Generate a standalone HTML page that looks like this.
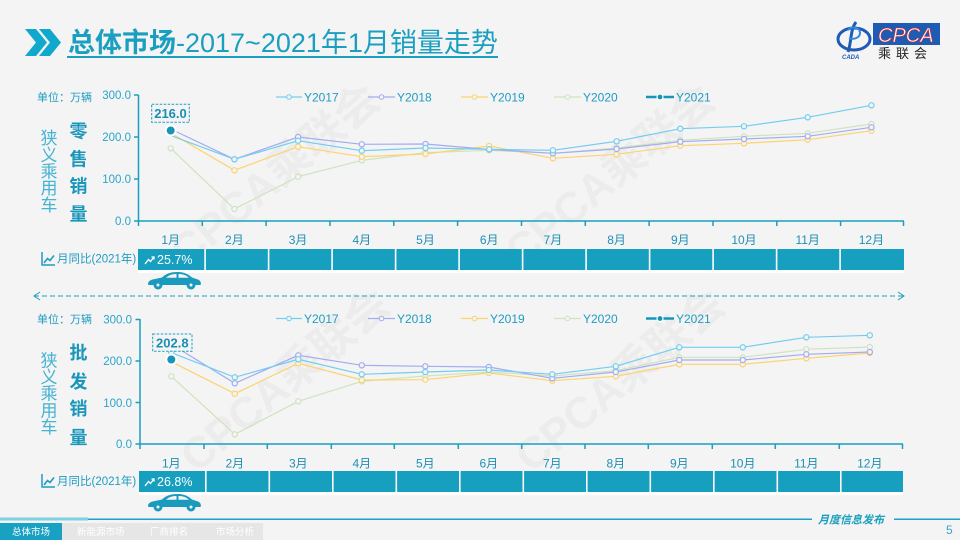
<!DOCTYPE html>
<html>
<head>
<meta charset="utf-8">
<style>
html,body{margin:0;padding:0;}
body{width:960px;height:540px;overflow:hidden;background:#f4f4f4;font-family:"Liberation Sans","Noto Sans CJK SC",sans-serif;}
svg{display:block;}
</style>
</head>
<body>
<svg width="960" height="540" viewBox="0 0 960 540" xmlns="http://www.w3.org/2000/svg" font-family="Liberation Sans, Noto Sans CJK SC, sans-serif">
  <rect x="0" y="0" width="960" height="540" fill="#f4f4f4"/>

  <!-- watermarks -->
  <g font-size="44" font-weight="bold" fill="#000" opacity="0.035">
    <text x="275" y="190" text-anchor="middle" transform="rotate(-40 275 175)">CPCA乘联会</text>
    <text x="610" y="190" text-anchor="middle" transform="rotate(-40 610 175)">CPCA乘联会</text>
    <text x="285" y="395" text-anchor="middle" transform="rotate(-40 285 380)">CPCA乘联会</text>
    <text x="620" y="395" text-anchor="middle" transform="rotate(-40 620 380)">CPCA乘联会</text>
  </g>

  <!-- title -->
  <polygon points="25,29 36,29 47,42.5 36,56 25,56 36,42.5" fill="#10a8cc"/>
  <polygon points="39,29 50,29 61,42.5 50,56 39,56 50,42.5" fill="#10a8cc"/>
  <text x="68" y="52" font-size="27" fill="#1a9fc0"><tspan font-weight="bold">总体市场</tspan>-2017~2021年1月销量走势</text>
  <rect x="67" y="56" width="431" height="2" fill="#1a9fc0"/>

  <!-- logo -->
  <g>
    <ellipse cx="854" cy="39" rx="16" ry="11" fill="none" stroke="#1e5bb5" stroke-width="3"/>
    <path d="M856,22 C850,30 852,40 848,52" stroke="#1e5bb5" stroke-width="3" fill="none"/>
    <path d="M848,30 C852,26 860,27 860,33 C860,38 853,40 849,38" stroke="#2a8be0" stroke-width="2" fill="none"/>
    <text x="842" y="59" font-size="6" font-style="italic" font-weight="bold" fill="#1e5bb5">CADA</text>
    <rect x="873" y="23" width="67" height="22" fill="#1e5bb5"/>
    <text x="878" y="42" font-size="20" font-style="italic" fill="#fff" stroke="#d8302f" stroke-width="0.6">CPCA</text>
    <text x="878" y="58" font-size="13" fill="#222" letter-spacing="5">乘联会</text>
  </g>

  <!-- ===== TOP CHART ===== -->
  <text x="37" y="101" font-size="11" fill="#1f9cc2">单位：万辆</text>
  <g font-size="17" fill="#45b3d2" text-anchor="middle">
    <text x="49" y="144">狭</text>
    <text x="49" y="161">义</text>
    <text x="49" y="177.5">乘</text>
    <text x="49" y="194">用</text>
    <text x="49" y="211">车</text>
  </g>
  <g font-size="18" font-weight="bold" fill="#1a96bb" text-anchor="middle">
    <text x="78.5" y="137.5">零</text>
    <text x="78.5" y="165.5">售</text>
    <text x="78.5" y="192.5">销</text>
    <text x="78.5" y="220.5">量</text>
  </g>
  <g font-size="11.5" fill="#2aa5c8" text-anchor="end">
    <text x="131" y="99">300.0</text>
    <text x="131" y="141">200.0</text>
    <text x="131" y="183">100.0</text>
    <text x="131" y="225">0.0</text>
  </g>
  <g stroke="#1a9fc0" stroke-width="1.5" fill="none">
    <line x1="138.5" y1="95" x2="138.5" y2="221"/>
    <line x1="138" y1="221" x2="904" y2="221"/>
    <line x1="134" y1="95" x2="138.5" y2="95"/>
    <line x1="134" y1="137" x2="138.5" y2="137"/>
    <line x1="134" y1="179" x2="138.5" y2="179"/>
    <line x1="134" y1="221" x2="138.5" y2="221"/>
    <path d="M138.5,221v5M202.3,221v5M266.1,221v5M330,221v5M393.8,221v5M457.6,221v5M521.5,221v5M585.3,221v5M649.1,221v5M713,221v5M776.8,221v5M840.6,221v5M903.5,221v5"/>
  </g>
  <g font-size="12" fill="#1f8fb5" text-anchor="middle">
    <text x="170.7" y="244">1月</text><text x="234.4" y="244">2月</text><text x="298.1" y="244">3月</text>
    <text x="361.8" y="244">4月</text><text x="425.5" y="244">5月</text><text x="489.2" y="244">6月</text>
    <text x="552.9" y="244">7月</text><text x="616.6" y="244">8月</text><text x="680.3" y="244">9月</text>
    <text x="744" y="244">10月</text><text x="807.7" y="244">11月</text><text x="871.4" y="244">12月</text>
  </g>

  <!-- legend top -->
  <g font-size="12" fill="#1f9cc2">
    <line x1="276" y1="97" x2="302" y2="97" stroke="#73cdf0" stroke-width="1.2"/><circle cx="289" cy="97" r="2.3" fill="#f4f4f4" stroke="#73cdf0"/>
    <text x="304" y="101.5">Y2017</text>
    <line x1="368" y1="97" x2="395" y2="97" stroke="#a3acf0" stroke-width="1.2"/><circle cx="381.5" cy="97" r="2.3" fill="#f4f4f4" stroke="#a3acf0"/>
    <text x="397" y="101.5">Y2018</text>
    <line x1="461" y1="97" x2="488" y2="97" stroke="#fcd36f" stroke-width="1.2"/><circle cx="474.5" cy="97" r="2.3" fill="#f4f4f4" stroke="#fcd36f"/>
    <text x="490" y="101.5">Y2019</text>
    <line x1="554" y1="97" x2="581" y2="97" stroke="#cfe3be" stroke-width="1.2"/><circle cx="567.5" cy="97" r="2.3" fill="#f4f4f4" stroke="#cfe3be"/>
    <text x="583" y="101.5">Y2020</text>
    <line x1="646" y1="97" x2="674" y2="97" stroke="#1596b8" stroke-width="2.5"/><circle cx="660" cy="97" r="3" fill="#1596b8" stroke="#fff" stroke-width="1.2"/>
    <text x="676" y="101.5">Y2021</text>
  </g>

  <!-- series top -->
  <g fill="#f4f4f4" stroke-width="1.2">
    <g stroke="#cfe3be">
      <polyline fill="none" points="170.7,148.3 234.4,209 298.1,176.7 361.8,160.3 425.5,152.7 489.2,150.3 552.9,153.3 616.6,148 680.3,140.3 744,136.3 807.7,133.3 871.4,124"/>
      <circle cx="170.7" cy="148.3" r="2.6"/><circle cx="234.4" cy="209" r="2.6"/><circle cx="298.1" cy="176.7" r="2.6"/><circle cx="361.8" cy="160.3" r="2.6"/><circle cx="425.5" cy="152.7" r="2.6"/><circle cx="489.2" cy="150.3" r="2.6"/><circle cx="552.9" cy="153.3" r="2.6"/><circle cx="616.6" cy="148" r="2.6"/><circle cx="680.3" cy="140.3" r="2.6"/><circle cx="744" cy="136.3" r="2.6"/><circle cx="807.7" cy="133.3" r="2.6"/><circle cx="871.4" cy="124" r="2.6"/>
    </g>
    <g stroke="#fcd36f">
      <polyline fill="none" points="170.7,133 234.4,170.3 298.1,146.7 361.8,156.7 425.5,154 489.2,146 552.9,158.3 616.6,154.3 680.3,145.7 744,143.3 807.7,139.7 871.4,130.7"/>
      <circle cx="234.4" cy="170.3" r="2.6"/><circle cx="298.1" cy="146.7" r="2.6"/><circle cx="361.8" cy="156.7" r="2.6"/><circle cx="425.5" cy="154" r="2.6"/><circle cx="489.2" cy="146" r="2.6"/><circle cx="552.9" cy="158.3" r="2.6"/><circle cx="616.6" cy="154.3" r="2.6"/><circle cx="680.3" cy="145.7" r="2.6"/><circle cx="744" cy="143.3" r="2.6"/><circle cx="807.7" cy="139.7" r="2.6"/><circle cx="871.4" cy="130.7" r="2.6"/>
    </g>
    <g stroke="#a3acf0">
      <polyline fill="none" points="170.7,129 234.4,159.3 298.1,137 361.8,144.3 425.5,144 489.2,149.5 552.9,153.3 616.6,149 680.3,141.7 744,139 807.7,136.3 871.4,127.3"/>
      <circle cx="234.4" cy="159.3" r="2.6"/><circle cx="298.1" cy="137" r="2.6"/><circle cx="361.8" cy="144.3" r="2.6"/><circle cx="425.5" cy="144" r="2.6"/><circle cx="489.2" cy="149.5" r="2.6"/><circle cx="552.9" cy="153.3" r="2.6"/><circle cx="616.6" cy="149" r="2.6"/><circle cx="680.3" cy="141.7" r="2.6"/><circle cx="744" cy="139" r="2.6"/><circle cx="807.7" cy="136.3" r="2.6"/><circle cx="871.4" cy="127.3" r="2.6"/>
    </g>
    <g stroke="#73cdf0">
      <polyline fill="none" points="170.7,135.5 234.4,159.3 298.1,140.7 361.8,150.7 425.5,148 489.2,149.3 552.9,150.3 616.6,141.3 680.3,128.7 744,126.3 807.7,117.3 871.4,105.3"/>
      <circle cx="234.4" cy="159.3" r="2.6"/><circle cx="298.1" cy="140.7" r="2.6"/><circle cx="361.8" cy="150.7" r="2.6"/><circle cx="425.5" cy="148" r="2.6"/><circle cx="489.2" cy="149.3" r="2.6"/><circle cx="552.9" cy="150.3" r="2.6"/><circle cx="616.6" cy="141.3" r="2.6"/><circle cx="680.3" cy="128.7" r="2.6"/><circle cx="744" cy="126.3" r="2.6"/><circle cx="807.7" cy="117.3" r="2.6"/><circle cx="871.4" cy="105.3" r="2.6"/>
    </g>
  </g>
  <circle cx="170.7" cy="130.5" r="5" fill="#1596b8" stroke="#fff" stroke-width="2"/>
  <rect x="151.7" y="104.3" width="37.6" height="18" fill="#f4f4f4" stroke="#1a9fc0" stroke-width="1" stroke-dasharray="2.5,1.5"/>
  <text x="170.5" y="118" font-size="13" font-weight="bold" fill="#1a8fb0" text-anchor="middle">216.0</text>

  <!-- top yoy bar -->
  <g>
    <path d="M42,252 V265 H55" stroke="#1f9cc2" stroke-width="1.5" fill="none"/>
    <path d="M44,263 L47.5,258.5 L50,260.5 L54,255.5" stroke="#1f9cc2" stroke-width="1.6" fill="none"/>
    <text x="57" y="262.5" font-size="11.5" fill="#1f9cc2">月同比(2021年)</text>
    <rect x="138" y="249" width="766" height="24" fill="#ffffff"/>
    <rect x="138" y="249" width="766" height="21" fill="#169fbf"/>
    <g fill="#ffffff">
      <rect x="204.3" y="249" width="1.6" height="21"/><rect x="267.8" y="249" width="1.6" height="21"/><rect x="331.3" y="249" width="1.6" height="21"/><rect x="394.8" y="249" width="1.6" height="21"/><rect x="458.3" y="249" width="1.6" height="21"/><rect x="521.8" y="249" width="1.6" height="21"/><rect x="585.3" y="249" width="1.6" height="21"/><rect x="648.8" y="249" width="1.6" height="21"/><rect x="712.3" y="249" width="1.6" height="21"/><rect x="775.8" y="249" width="1.6" height="21"/><rect x="839.3" y="249" width="1.6" height="21"/>
    </g>
    <path d="M145,264 L148.5,259.5 L150.5,261.5 L154,257 M151.5,257 H154 V259.5" stroke="#fff" stroke-width="1.3" fill="none"/>
    <text x="157" y="264" font-size="12.5" fill="#ffffff">25.7%</text>
  </g>
  <!-- car top -->
  <g transform="translate(147,271)" fill="#1a9bbd">
    <path d="M1,13 C1,10 4,8.5 8,8 L15,6.5 C19,2.5 24,1 31,1 C37,1 41,3 45,6.5 L51,8.5 C53.5,9.5 54.5,12 53.5,14 L1.5,14 Z"/>
    <circle cx="11" cy="14" r="4.5"/><circle cx="44" cy="14" r="4.5"/>
    <path d="M19,6.8 C22,4 25,3 29.5,3 L29.5,6.8 Z M31.5,3 C36,3 39,4 42,6.8 L31.5,6.8 Z" fill="#f4f4f4"/>
    <circle cx="11" cy="14" r="1.5" fill="#f4f4f4"/><circle cx="44" cy="14" r="1.5" fill="#f4f4f4"/>
  </g>

  <!-- dashed divider -->
  <line x1="34" y1="296" x2="904" y2="296" stroke="#1a9fc0" stroke-width="1" stroke-dasharray="5,3"/>
  <path d="M40,292 L34,296 L40,300" stroke="#1a9fc0" stroke-width="1" fill="none"/>
  <path d="M898,292 L904,296 L898,300" stroke="#1a9fc0" stroke-width="1" fill="none"/>

  <!-- ===== BOTTOM CHART ===== -->
  <text x="37" y="323" font-size="11" fill="#1f9cc2">单位：万辆</text>
  <g font-size="17" fill="#45b3d2" text-anchor="middle">
    <text x="49" y="366.5">狭</text>
    <text x="49" y="383">义</text>
    <text x="49" y="399.5">乘</text>
    <text x="49" y="416.5">用</text>
    <text x="49" y="433">车</text>
  </g>
  <g font-size="18" font-weight="bold" fill="#1a96bb" text-anchor="middle">
    <text x="78.5" y="359">批</text>
    <text x="78.5" y="388">发</text>
    <text x="78.5" y="415">销</text>
    <text x="78.5" y="444">量</text>
  </g>
  <g font-size="11.5" fill="#2aa5c8" text-anchor="end">
    <text x="132" y="323.5">300.0</text>
    <text x="132" y="365">200.0</text>
    <text x="132" y="407">100.0</text>
    <text x="132" y="448">0.0</text>
  </g>
  <g stroke="#1a9fc0" stroke-width="1.5" fill="none">
    <line x1="140" y1="319" x2="140" y2="444"/>
    <line x1="139.5" y1="444" x2="903" y2="444"/>
    <line x1="135.5" y1="319.5" x2="140" y2="319.5"/>
    <line x1="135.5" y1="361" x2="140" y2="361"/>
    <line x1="135.5" y1="402.5" x2="140" y2="402.5"/>
    <line x1="135.5" y1="444" x2="140" y2="444"/>
    <path d="M140,444v5M204,444v5M267.3,444v5M331.3,444v5M394.3,444v5M458.3,444v5M521.7,444v5M585,444v5M648.3,444v5M712.3,444v5M775.3,444v5M839.3,444v5M902.5,444v5"/>
  </g>
  <g font-size="12" fill="#1f8fb5" text-anchor="middle">
    <text x="171.3" y="467.5">1月</text><text x="234.8" y="467.5">2月</text><text x="298.3" y="467.5">3月</text>
    <text x="361.8" y="467.5">4月</text><text x="425.3" y="467.5">5月</text><text x="488.8" y="467.5">6月</text>
    <text x="552.3" y="467.5">7月</text><text x="615.8" y="467.5">8月</text><text x="679.3" y="467.5">9月</text>
    <text x="742.8" y="467.5">10月</text><text x="806.3" y="467.5">11月</text><text x="869.8" y="467.5">12月</text>
  </g>

  <!-- legend bottom -->
  <g font-size="12" fill="#1f9cc2">
    <line x1="276" y1="318.5" x2="302" y2="318.5" stroke="#73cdf0" stroke-width="1.2"/><circle cx="289" cy="318.5" r="2.3" fill="#f4f4f4" stroke="#73cdf0"/>
    <text x="304" y="323">Y2017</text>
    <line x1="368" y1="318.5" x2="395" y2="318.5" stroke="#a3acf0" stroke-width="1.2"/><circle cx="381.5" cy="318.5" r="2.3" fill="#f4f4f4" stroke="#a3acf0"/>
    <text x="397" y="323">Y2018</text>
    <line x1="461" y1="318.5" x2="488" y2="318.5" stroke="#fcd36f" stroke-width="1.2"/><circle cx="474.5" cy="318.5" r="2.3" fill="#f4f4f4" stroke="#fcd36f"/>
    <text x="490" y="323">Y2019</text>
    <line x1="554" y1="318.5" x2="581" y2="318.5" stroke="#cfe3be" stroke-width="1.2"/><circle cx="567.5" cy="318.5" r="2.3" fill="#f4f4f4" stroke="#cfe3be"/>
    <text x="583" y="323">Y2020</text>
    <line x1="646" y1="318.5" x2="674" y2="318.5" stroke="#1596b8" stroke-width="2.5"/><circle cx="660" cy="318.5" r="3" fill="#1596b8" stroke="#fff" stroke-width="1.2"/>
    <text x="676" y="323">Y2021</text>
  </g>

  <!-- series bottom -->
  <g fill="#f4f4f4" stroke-width="1.2">
    <g stroke="#cfe3be">
      <polyline fill="none" points="171.3,376.3 234.8,434.3 298.3,401.3 361.8,381.3 425.3,376 488.8,372 552.3,376 615.8,370.7 679.3,357.3 742.8,357.3 806.3,349.3 869.8,347"/>
      <circle cx="171.3" cy="376.3" r="2.6"/><circle cx="234.8" cy="434.3" r="2.6"/><circle cx="298.3" cy="401.3" r="2.6"/><circle cx="361.8" cy="381.3" r="2.6"/><circle cx="425.3" cy="376" r="2.6"/><circle cx="488.8" cy="372" r="2.6"/><circle cx="552.3" cy="376" r="2.6"/><circle cx="615.8" cy="370.7" r="2.6"/><circle cx="679.3" cy="357.3" r="2.6"/><circle cx="742.8" cy="357.3" r="2.6"/><circle cx="806.3" cy="349.3" r="2.6"/><circle cx="869.8" cy="347" r="2.6"/>
    </g>
    <g stroke="#fcd36f">
      <polyline fill="none" points="171.3,361.7 234.8,393.7 298.3,363.3 361.8,380 425.3,379.7 488.8,373 552.3,380.7 615.8,376.3 679.3,364.3 742.8,364.3 806.3,358.3 869.8,353"/>
      <circle cx="234.8" cy="393.7" r="2.6"/><circle cx="298.3" cy="363.3" r="2.6"/><circle cx="361.8" cy="380" r="2.6"/><circle cx="425.3" cy="379.7" r="2.6"/><circle cx="488.8" cy="373" r="2.6"/><circle cx="552.3" cy="380.7" r="2.6"/><circle cx="615.8" cy="376.3" r="2.6"/><circle cx="679.3" cy="364.3" r="2.6"/><circle cx="742.8" cy="364.3" r="2.6"/><circle cx="806.3" cy="358.3" r="2.6"/><circle cx="869.8" cy="353" r="2.6"/>
    </g>
    <g stroke="#a3acf0">
      <polyline fill="none" points="171.3,344.3 234.8,383.3 298.3,355.3 361.8,365.3 425.3,366.3 488.8,367 552.3,378.3 615.8,372 679.3,360 742.8,360 806.3,354.3 869.8,352"/>
      <circle cx="234.8" cy="383.3" r="2.6"/><circle cx="298.3" cy="355.3" r="2.6"/><circle cx="361.8" cy="365.3" r="2.6"/><circle cx="425.3" cy="366.3" r="2.6"/><circle cx="488.8" cy="367" r="2.6"/><circle cx="552.3" cy="378.3" r="2.6"/><circle cx="615.8" cy="372" r="2.6"/><circle cx="679.3" cy="360" r="2.6"/><circle cx="742.8" cy="360" r="2.6"/><circle cx="806.3" cy="354.3" r="2.6"/><circle cx="869.8" cy="352" r="2.6"/>
    </g>
    <g stroke="#73cdf0">
      <polyline fill="none" points="171.3,352.7 234.8,377.3 298.3,359.3 361.8,374.3 425.3,372 488.8,370 552.3,374.3 615.8,366.3 679.3,347.3 742.8,347.3 806.3,337.3 869.8,335.3"/>
      <circle cx="171.3" cy="352.7" r="2.6"/><circle cx="234.8" cy="377.3" r="2.6"/><circle cx="298.3" cy="359.3" r="2.6"/><circle cx="361.8" cy="374.3" r="2.6"/><circle cx="425.3" cy="372" r="2.6"/><circle cx="488.8" cy="370" r="2.6"/><circle cx="552.3" cy="374.3" r="2.6"/><circle cx="615.8" cy="366.3" r="2.6"/><circle cx="679.3" cy="347.3" r="2.6"/><circle cx="742.8" cy="347.3" r="2.6"/><circle cx="806.3" cy="337.3" r="2.6"/><circle cx="869.8" cy="335.3" r="2.6"/>
    </g>
  </g>
  <circle cx="171.3" cy="359.5" r="5" fill="#1596b8" stroke="#fff" stroke-width="2"/>
  <rect x="152.7" y="334" width="39.3" height="17.3" fill="#f4f4f4" stroke="#1a9fc0" stroke-width="1" stroke-dasharray="2.5,1.5"/>
  <text x="172.3" y="347.5" font-size="13" font-weight="bold" fill="#1a8fb0" text-anchor="middle">202.8</text>

  <!-- bottom yoy bar -->
  <g>
    <path d="M42,474 V487 H55" stroke="#1f9cc2" stroke-width="1.5" fill="none"/>
    <path d="M44,485 L47.5,480.5 L50,482.5 L54,477.5" stroke="#1f9cc2" stroke-width="1.6" fill="none"/>
    <text x="57" y="485" font-size="11.5" fill="#1f9cc2">月同比(2021年)</text>
    <rect x="139" y="471" width="764" height="24" fill="#ffffff"/>
    <rect x="139" y="471" width="764" height="21" fill="#169fbf"/>
    <g fill="#ffffff">
      <rect x="205" y="471" width="1.6" height="21"/><rect x="268.5" y="471" width="1.6" height="21"/><rect x="332" y="471" width="1.6" height="21"/><rect x="395.5" y="471" width="1.6" height="21"/><rect x="459" y="471" width="1.6" height="21"/><rect x="522.5" y="471" width="1.6" height="21"/><rect x="586" y="471" width="1.6" height="21"/><rect x="649.5" y="471" width="1.6" height="21"/><rect x="713" y="471" width="1.6" height="21"/><rect x="776.5" y="471" width="1.6" height="21"/><rect x="840" y="471" width="1.6" height="21"/>
    </g>
    <path d="M145,486 L148.5,481.5 L150.5,483.5 L154,479 M151.5,479 H154 V481.5" stroke="#fff" stroke-width="1.3" fill="none"/>
    <text x="157" y="486" font-size="12.5" fill="#ffffff">26.8%</text>
  </g>
  <g transform="translate(147,493)" fill="#1a9bbd">
    <path d="M1,13 C1,10 4,8.5 8,8 L15,6.5 C19,2.5 24,1 31,1 C37,1 41,3 45,6.5 L51,8.5 C53.5,9.5 54.5,12 53.5,14 L1.5,14 Z"/>
    <circle cx="11" cy="14" r="4.5"/><circle cx="44" cy="14" r="4.5"/>
    <path d="M19,6.8 C22,4 25,3 29.5,3 L29.5,6.8 Z M31.5,3 C36,3 39,4 42,6.8 L31.5,6.8 Z" fill="#f4f4f4"/>
    <circle cx="11" cy="14" r="1.5" fill="#f4f4f4"/><circle cx="44" cy="14" r="1.5" fill="#f4f4f4"/>
  </g>

  <!-- footer -->
  <rect x="0" y="518.5" width="812" height="1.5" fill="#1aa3c5"/>
  <rect x="0" y="517.5" width="88" height="3" fill="#7fd0e2"/>
  <rect x="894" y="518.5" width="66" height="1.5" fill="#1aa3c5"/>
  <text x="818" y="523.5" font-size="11" font-style="italic" font-weight="bold" fill="#1a9fc0">月度信息发布</text>
  <rect x="0" y="523" width="62" height="17" fill="#18a1c2"/>
  <rect x="62" y="523" width="201" height="17" fill="#e6e6e6"/>
  <g font-size="9.5" fill="#ffffff">
    <text x="12" y="535">总体市场</text>
    <text x="77" y="535">新能源市场</text>
    <text x="150" y="535">厂商排名</text>
    <text x="216" y="535">市场分析</text>
  </g>
  <text x="946" y="534" font-size="12" fill="#3aa6c4">5</text>
</svg>
</body>
</html>
